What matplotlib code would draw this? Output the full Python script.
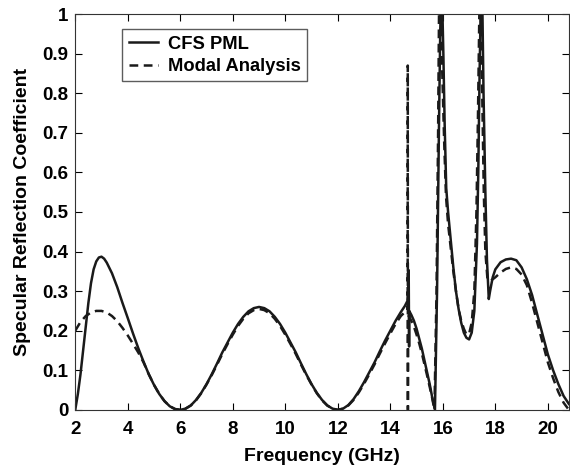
import matplotlib
matplotlib.use("Agg")
import matplotlib.pyplot as plt

plt.rcParams['font.family'] = ['Liberation Sans', 'DejaVu Sans']
plt.rcParams['font.weight'] = 'bold'

# CFS PML (solid)
pml_f = [2.0, 2.1, 2.2, 2.3, 2.4, 2.5, 2.6, 2.7, 2.8, 2.9, 3.0, 3.1, 3.2, 3.4, 3.6, 3.8,
         4.0, 4.2, 4.4, 4.6, 4.8, 5.0, 5.2, 5.4, 5.6, 5.8, 6.0,
         6.2, 6.4, 6.6, 6.8, 7.0, 7.2, 7.4, 7.6, 7.8, 8.0, 8.2, 8.4, 8.6, 8.8, 9.0,
         9.2, 9.4, 9.6, 9.8, 10.0, 10.2, 10.4, 10.6, 10.8, 11.0, 11.2, 11.4, 11.6, 11.8, 12.0,
         12.2, 12.4, 12.6, 12.8, 13.0, 13.2, 13.4, 13.6, 13.8, 14.0, 14.2, 14.4, 14.55, 14.65,
         14.69, 14.70, 14.71, 14.715, 14.72, 14.8, 14.9, 15.0, 15.1, 15.2, 15.3, 15.4, 15.5, 15.6, 15.7,
         15.78, 15.85, 15.9, 15.93, 15.97, 16.02, 16.07, 16.13, 16.2, 16.3, 16.4, 16.5, 16.6, 16.7, 16.8,
         16.9, 17.0, 17.1, 17.2, 17.3, 17.35, 17.4, 17.45, 17.5, 17.55, 17.62, 17.68, 17.75,
         17.8, 17.9, 18.0, 18.2, 18.4, 18.6, 18.8, 19.0, 19.2, 19.4, 19.6, 19.8, 20.0, 20.2,
         20.4, 20.6, 20.8]
pml_r = [0.0, 0.04, 0.09, 0.15, 0.21, 0.27, 0.32, 0.355, 0.375, 0.385, 0.387, 0.382, 0.372, 0.345, 0.31, 0.27,
         0.232, 0.193, 0.156, 0.122, 0.09, 0.063, 0.04, 0.022, 0.009, 0.002, 0.0,
         0.003, 0.011, 0.025, 0.043, 0.065, 0.09, 0.117, 0.145, 0.17, 0.195, 0.217, 0.235, 0.249, 0.257, 0.26,
         0.257, 0.249, 0.235, 0.217, 0.195, 0.17, 0.145, 0.117, 0.09, 0.065, 0.043, 0.025, 0.011, 0.003, 0.0,
         0.003, 0.012, 0.027, 0.047, 0.07, 0.095, 0.12, 0.148, 0.175, 0.2, 0.225, 0.247, 0.262, 0.275,
         0.3, 0.353, 0.25, 0.16, 0.25, 0.24, 0.225, 0.205, 0.18, 0.155, 0.125, 0.095, 0.065, 0.03, 0.0,
         0.3, 0.7, 0.95, 1.05, 1.05, 0.9, 0.72, 0.56, 0.5, 0.43, 0.36, 0.3, 0.255, 0.22, 0.195,
         0.182, 0.178, 0.195, 0.25, 0.42, 0.6, 0.85, 1.05, 1.05, 0.8, 0.55, 0.38, 0.28,
         0.3, 0.335, 0.355, 0.373, 0.38, 0.382, 0.378, 0.36, 0.33, 0.29, 0.24, 0.19, 0.14, 0.1,
         0.065, 0.035, 0.015]

# Modal analysis (dashed)
modal_f = [2.0, 2.2, 2.4, 2.6, 2.8, 3.0, 3.2, 3.4, 3.6, 3.8, 4.0, 4.2, 4.4, 4.6, 4.8,
           5.0, 5.2, 5.4, 5.6, 5.8, 6.0,
           6.2, 6.4, 6.6, 6.8, 7.0, 7.2, 7.4, 7.6, 7.8, 8.0, 8.2, 8.4, 8.6, 8.8, 9.0,
           9.2, 9.4, 9.6, 9.8, 10.0, 10.2, 10.4, 10.6, 10.8, 11.0, 11.2, 11.4, 11.6, 11.8, 12.0,
           12.2, 12.4, 12.6, 12.8, 13.0, 13.2, 13.4, 13.6, 13.8, 14.0, 14.2, 14.4, 14.6, 14.66,
           14.665, 14.67, 14.675, 14.8, 14.9, 15.0, 15.1, 15.2, 15.3, 15.4, 15.5, 15.6, 15.68,
           15.76, 15.82, 15.86, 15.92, 15.98, 16.05, 16.12, 16.2, 16.3, 16.4, 16.5, 16.6, 16.7, 16.8,
           16.9, 17.0, 17.1, 17.2, 17.28, 17.34, 17.4, 17.44, 17.5, 17.56, 17.62, 17.7,
           17.8, 17.9, 18.0, 18.2, 18.4, 18.6, 18.8, 19.0, 19.2, 19.4, 19.6, 19.8, 20.0, 20.2,
           20.4, 20.6, 20.8]
modal_r = [0.2, 0.222, 0.237, 0.246, 0.25, 0.25, 0.246, 0.237, 0.224, 0.207, 0.188, 0.167, 0.145, 0.12, 0.09,
           0.063, 0.04, 0.022, 0.009, 0.002, 0.0,
           0.003, 0.011, 0.024, 0.042, 0.064, 0.088, 0.114, 0.141, 0.166, 0.19, 0.212, 0.23, 0.244, 0.252, 0.255,
           0.252, 0.244, 0.23, 0.212, 0.19, 0.166, 0.141, 0.114, 0.088, 0.064, 0.042, 0.024, 0.011, 0.003, 0.0,
           0.003, 0.011, 0.025, 0.044, 0.066, 0.09, 0.115, 0.142, 0.168, 0.193, 0.217, 0.237, 0.25, 0.252,
           0.87, 0.0, 0.24, 0.225, 0.21, 0.19, 0.168, 0.143, 0.115, 0.087, 0.058, 0.028, 0.0,
           0.3, 0.7, 1.05, 1.05, 0.85, 0.68, 0.54, 0.47, 0.41, 0.35, 0.3, 0.255, 0.225, 0.205,
           0.19, 0.192, 0.22, 0.3, 0.5, 0.75, 1.05, 1.05, 0.8, 0.55, 0.4, 0.33,
           0.325, 0.33, 0.335, 0.347, 0.356, 0.36, 0.356, 0.342, 0.315, 0.27, 0.22, 0.17, 0.12, 0.08,
           0.045, 0.018, 0.0]

fig = plt.figure(figsize=(5.7, 4.7), dpi=100)
ax = fig.add_axes([0.132, 0.128, 0.866, 0.842])

ax.plot(pml_f, pml_r, color='#1a1a1a', lw=1.8, label='CFS PML')
ax.plot(modal_f, modal_r, color='#1a1a1a', lw=1.8, ls=(0, (3.5, 2.2)), label='Modal Analysis')

ax.set_xlim(2, 20.8)
ax.set_ylim(0, 1)
ax.set_xticks([2, 4, 6, 8, 10, 12, 14, 16, 18, 20])
ax.set_yticks([0, 0.1, 0.2, 0.3, 0.4, 0.5, 0.6, 0.7, 0.8, 0.9, 1])
ax.set_yticklabels(['0', '0.1', '0.2', '0.3', '0.4', '0.5', '0.6', '0.7', '0.8', '0.9', '1'])
ax.tick_params(direction='in', top=True, right=True, labelsize=13.5, length=5)
ax.tick_params(axis='x', pad=8)
ax.tick_params(axis='y', pad=5)
for s in ax.spines.values():
    s.set_color('#333333')
ax.set_xlabel('Frequency (GHz)', fontsize=14, fontweight='bold', labelpad=7)
ax.set_ylabel('Specular Reflection Coefficient', fontsize=14, fontweight='bold', labelpad=8)

leg = ax.legend(loc='upper left', bbox_to_anchor=(0.095, 0.962), borderaxespad=0, fontsize=13.2,
                frameon=True, fancybox=False, edgecolor='#333333', handlelength=1.6,
                handletextpad=0.55, borderpad=0.35, labelspacing=0.3)
leg.get_frame().set_linewidth(1.0)

fig.savefig('out.png', dpi=100)
